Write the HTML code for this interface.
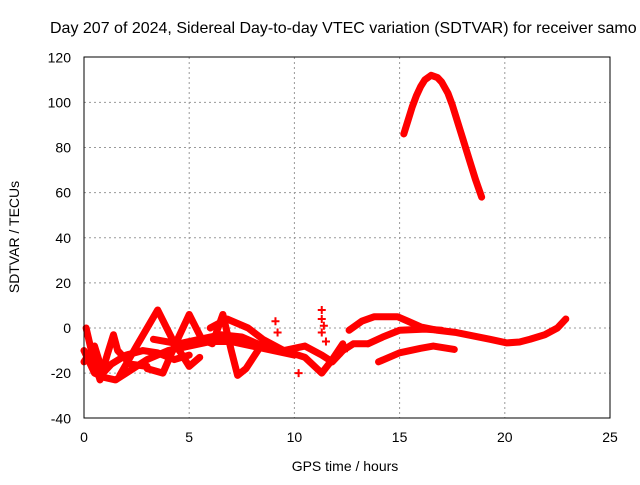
<!DOCTYPE html>
<html><head><meta charset="utf-8"><style>
body{margin:0;background:#fff}
svg text{font-family:"Liberation Sans",sans-serif;font-size:14px;fill:#000}
</style></head><body>
<svg id="c" width="640" height="480">
<text x="50" y="33" style="font-size:16px">Day 207 of 2024, Sidereal Day-to-day VTEC variation (SDTVAR) for receiver samo</text>
<g id="grid"></g><g id="series"></g>
<rect x="84" y="57" width="526" height="361" fill="none" stroke="#000"/>
<text x="345" y="471" text-anchor="middle">GPS time / hours</text>
<text transform="translate(19,237) rotate(-90)" text-anchor="middle">SDTVAR / TECUs</text>
</svg>
<script>
const xTicks=[0,5,10,15,20,25];
const yTicks=[-40,-20,0,20,40,60,80,100,120];
const arcSeries=[[15.2,86],[15.4,92],[15.6,98],[15.8,103],[16,107],[16.2,110],[16.5,112],[16.8,111],[17,109],[17.3,104],[17.5,99],[17.8,90],[18,84],[18.3,75],[18.6,66],[18.9,58]];
const upperRight=[[12.6,-1],[13.2,3],[13.8,5],[14.4,5],[14.9,5],[15.4,3],[16,0.5],[16.8,-1],[17.7,-2],[18.5,-3.5],[19.3,-5],[20.1,-6.6],[20.7,-6.2],[21.2,-5],[21.9,-3],[22.5,0],[22.9,4]];
const midRight=[[13.5,-7],[14.2,-4],[15,-1],[16.2,-0.5],[17,-1]];
const lowRight=[[14,-15],[15,-11],[16,-9],[16.6,-8],[17.6,-9.5]];
const curveA=[[0,-10],[0.5,-20],[1,-22],[1.5,-23],[2,-20],[3,-14],[4,-10],[5,-8],[6,-6],[7,-6],[8,-8],[9,-10],[10,-12]];
const curveB=[[0.1,0],[0.4,-12],[0.76,-23],[1.1,-12],[1.4,-3],[1.6,-10],[2.2,-16],[3,-17]];
const curveC=[[1.7,-21],[2.5,-8],[3.5,8],[4.2,-5],[5,-17],[5.5,-13]];
const curveD=[[3,-18],[3.75,-20],[4.4,-6],[5,6],[5.6,-5],[6.1,-7],[6.6,6],[7,-10],[7.3,-21],[7.7,-18],[8.4,-8]];
const curveF=[[3.3,-5],[4.5,-7],[5.5,-5],[6.5,-3],[7.5,-4],[8.5,-8],[9.5,-10],[10.5,-8],[11.3,-12],[11.8,-15],[12.3,-10],[12.8,-7],[13.5,-7]];
const curveG=[[0,-15],[0.5,-8],[0.9,-20],[1.3,-16],[2,-12],[2.8,-10],[3.5,-11],[4.3,-14],[5,-12]];
const curveH=[[6,0],[6.8,4],[7.3,2],[7.8,0],[8.5,-5],[9.5,-10],[10.5,-13],[11.3,-20],[11.8,-14],[12.3,-7]];
const pluses=[[9.1,3],[9.2,-2],[10.2,-20],[11.3,8],[11.3,4],[11.4,1],[11.3,-2],[11.5,-6],[12.1,-12],[12.5,-9]];
const X=h=>84+h*526/25, Y=v=>328-v*361/160;
const ns="http://www.w3.org/2000/svg";
const grid=document.getElementById('grid'), ser=document.getElementById('series'), svg=document.getElementById('c');
function mk(t,a,p){const e=document.createElementNS(ns,t);for(const k in a)e.setAttribute(k,a[k]);p.appendChild(e);return e;}
xTicks.forEach(t=>{
 if(t>0&&t<25){const l=mk('line',{x1:X(t),x2:X(t),y1:57,y2:418,stroke:'#999','stroke-dasharray':'2,3'},grid);
 
 }
 const tx=mk('text',{x:X(t),y:442,'text-anchor':'middle'},svg);tx.textContent=t;
 
 
});
yTicks.forEach(t=>{
 if(t>-40&&t<120){const l=mk('line',{x1:84,x2:610,y1:Y(t),y2:Y(t),stroke:'#999','stroke-dasharray':'2,3'},grid);
 
 }
 const tx=mk('text',{x:71,y:Y(t)+5,'text-anchor':'end'},svg);tx.textContent=t;
 
 
});
[arcSeries,upperRight,midRight,lowRight,curveA,curveB,curveC,curveD,curveF,curveG,curveH].forEach(s=>{
 const p=mk('polyline',{points:s.map(d=>X(d[0])+','+Y(d[1])).join(' '),fill:'none',stroke:'#f00','stroke-width':7,'stroke-linejoin':'round','stroke-linecap':'round'},ser);
 
 
});
pluses.forEach(d=>{
 const x=X(d[0]),y=Y(d[1]);
 const p=mk('path',{d:`M${x-4},${y}H${x+4}M${x},${y-4}V${y+4}`,stroke:'#f00','stroke-width':2},ser);
 
 
});
</script>
</body></html>
